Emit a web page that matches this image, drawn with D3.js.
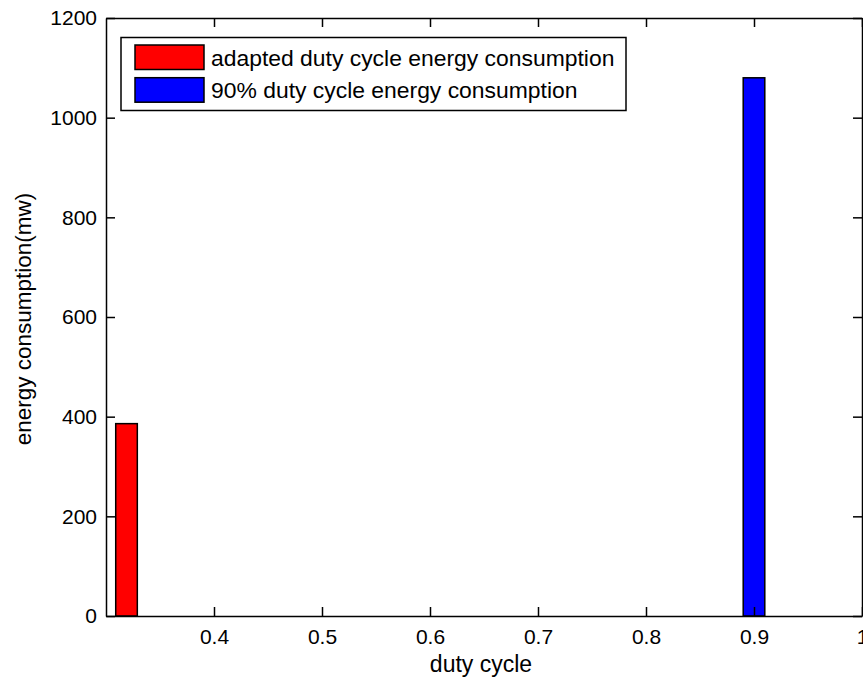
<html>
<head>
<meta charset="utf-8">
<style>
  body { margin: 0; background: #fff; }
  svg text { font-family: "Liberation Sans", Arial, sans-serif; fill: #000; }
</style>
<script src="https://cdnjs.cloudflare.com/ajax/libs/d3/7.8.5/d3.min.js"></script>
</head>
<body>
<svg id="chart" width="863" height="684"></svg>
<script>
// values
let seriesNames = ["adapted duty cycle energy consumption", "90% duty cycle energy consumption"];
let seriesColors = ["#ff0000", "#0000ff"];
let dutyCycles = [0.319, 0.9];
let energies = [386, 1080];
let xTicks = [0.4, 0.5, 0.6, 0.7, 0.8, 0.9, 1];
let yTicks = [0, 200, 400, 600, 800, 1000, 1200];
let barWidth = 0.02;

let plotLeft = 106, plotRight = 862, plotTop = 18, plotBottom = 616;

let x = d3.scaleLinear().domain([0.3, 1.0]).range([plotLeft, plotRight]);
let y = d3.scaleLinear().domain([0, 1200]).range([plotBottom, plotTop]);

let svg = d3.select("#chart");

// bars
svg.selectAll(".bar")
  .data(dutyCycles)
  .join("rect")
  .attr("class", "bar")
  .attr("x", (d) => x(d - barWidth / 2))
  .attr("width", (d) => x(d + barWidth / 2) - x(d - barWidth / 2))
  .attr("y", (d, i) => y(energies[i]))
  .attr("height", (d, i) => y(0) - y(energies[i]))
  .attr("fill", (d, i) => seriesColors[i])
  .attr("stroke", "#000")
  .attr("stroke-width", 1.5);

// axes, matlab style: ticks inside on all four sides
let tickLen = 9;
let fmtX = (d) => d == 1 ? "1" : d3.format(".1f")(d);

let xb = svg.append("g").attr("transform", `translate(0,${plotBottom})`)
  .call(d3.axisBottom(x).tickValues(xTicks).tickSizeInner(-tickLen).tickSizeOuter(0).tickPadding(13).tickFormat(fmtX));
let xt = svg.append("g").attr("transform", `translate(0,${plotTop})`)
  .call(d3.axisTop(x).tickValues(xTicks).tickSizeInner(-tickLen).tickSizeOuter(0).tickFormat(""));
let yl = svg.append("g").attr("transform", `translate(${plotLeft},0)`)
  .call(d3.axisLeft(y).tickValues(yTicks).tickSizeInner(-tickLen).tickSizeOuter(0).tickPadding(9).tickFormat(d3.format("d")));
let yr = svg.append("g").attr("transform", `translate(${plotRight},0)`)
  .call(d3.axisRight(y).tickValues(yTicks).tickSizeInner(-tickLen).tickSizeOuter(0).tickFormat(""));

[xb, xt, yl, yr].forEach((g) => {
  g.selectAll("path, line").attr("stroke", "#000").attr("stroke-width", 1.5);
  g.selectAll("text").attr("font-size", 21).attr("font-family", '"Liberation Sans", Arial, sans-serif').attr("fill", "#000");
});

// axis titles
svg.append("text")
  .attr("x", (plotLeft + plotRight) / 2 - 3)
  .attr("y", 672)
  .attr("text-anchor", "middle")
  .attr("font-size", 23)
  .text("duty cycle");

svg.append("text")
  .attr("transform", `translate(31,${(plotTop + plotBottom) / 2 + 2}) rotate(-90)`)
  .attr("text-anchor", "middle")
  .attr("font-size", 22.5)
  .text("energy consumption(mw)");

// legend
let legend = svg.append("g");
legend.append("rect")
  .attr("x", 121).attr("y", 37.5)
  .attr("width", 505).attr("height", 73)
  .attr("fill", "#fff").attr("stroke", "#000").attr("stroke-width", 1.5);

seriesNames.forEach((name, i) => {
  let yy = 45 + i * 32.7;
  legend.append("rect")
    .attr("x", 135).attr("y", yy)
    .attr("width", 69).attr("height", 24.5)
    .attr("fill", seriesColors[i]).attr("stroke", "#000").attr("stroke-width", 1.5);
  legend.append("text")
    .attr("x", 211).attr("y", yy + 20.5)
    .attr("font-size", 22.9)
    .text(name);
});
</script>
</body>
</html>
